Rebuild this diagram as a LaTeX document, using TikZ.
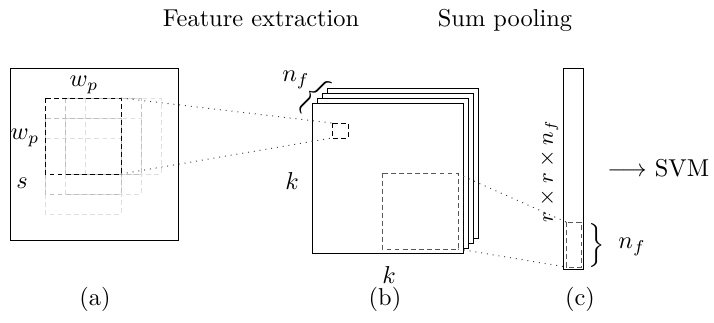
\documentclass[tikz,border=0pt]{standalone}
\usetikzlibrary{decorations.pathreplacing}
\begin{document}
\begin{tikzpicture}[x=0.4098pt,y=-0.4098pt,
  win/.style={dash pattern=on 2pt off 1.3pt, line width=0.4pt},
  link/.style={dotted, black!75},
  layer/.style={draw=black, fill=white, line width=0.4pt},
  box/.style={draw=black, line width=0.4pt}]
\useasboundingbox (0,0) rectangle (714,323);

% titles
\node[anchor=base] (t1) at (261,27) {Feature extraction};
\node[anchor=base] (t2) at (505,27) {Sum pooling};

% (a)
\draw[box] (10,68) rectangle (178,240);
\draw[win, gray!25] (85,98) rectangle +(76,76);
\draw[win, gray!25] (65,118) rectangle +(76,76);
\draw[win, gray!25] (45,138) rectangle +(76,76);
\draw[win, gray!50] (65,98) rectangle +(76,76);
\draw[win, gray!50] (45,118) rectangle +(76,76);
\draw[win, black] (45,98) rectangle (121,174);
\coordinate (wa1) at (121,98);
\coordinate (wa2) at (121,174);
\node (wp1) at (84,85) {$w_p$};
\node (wp2) at (25,138) {$w_p$};
\node (s) at (22,183) {$s$};

% (b)
\foreach \i in {3,2,1,0}{
  \draw[layer] (312+5*\i,103-5*\i) rectangle +(151,150);
}
\draw[win, black] (332,123) rectangle (348,138);
\coordinate (sb1) at (332,123);
\coordinate (sb2) at (332,138);
\draw[win, gray!70!black] (382,173) rectangle (458,249);
\coordinate (lb1) at (458,174);
\coordinate (lb2) at (458,249);
\node[rotate=-45, inner sep=0pt] (brb) at (313,95) {$\Big\{$};
\node (nfb) at (296,80) {$n_f$};
\node (kl) at (292,181) {$k$};
\node (kb) at (389,275) {$k$};

% (c)
\draw[box] (563,68) rectangle (583,269);
\draw[win, gray!70!black] (566,222) rectangle (581,267);
\coordinate (c1) at (566,222);
\coordinate (c2) at (566,267);
\node[rotate=90, font=\small] (rr) at (549,171) {$r\times r\times n_f$};
\node[inner sep=0pt] (brc) at (597,245) {$\Big\}$};
\node (nfc) at (632,247) {$n_f$};
\node[anchor=base west, inner sep=0pt] (svm) at (607,177) {$\longrightarrow$ SVM};

% connectors
\draw[link] (wa1) -- (sb1);
\draw[link] (wa2) -- (sb2);
\draw[link] (lb1) -- (c1);
\draw[link] (lb2) -- (c2);

% labels
\node[anchor=base] (la) at (95,306) {(a)};
\node[anchor=base] (lbb) at (385,306) {(b)};
\node[anchor=base] (lc) at (580,306) {(c)};
\end{tikzpicture}
\end{document}
